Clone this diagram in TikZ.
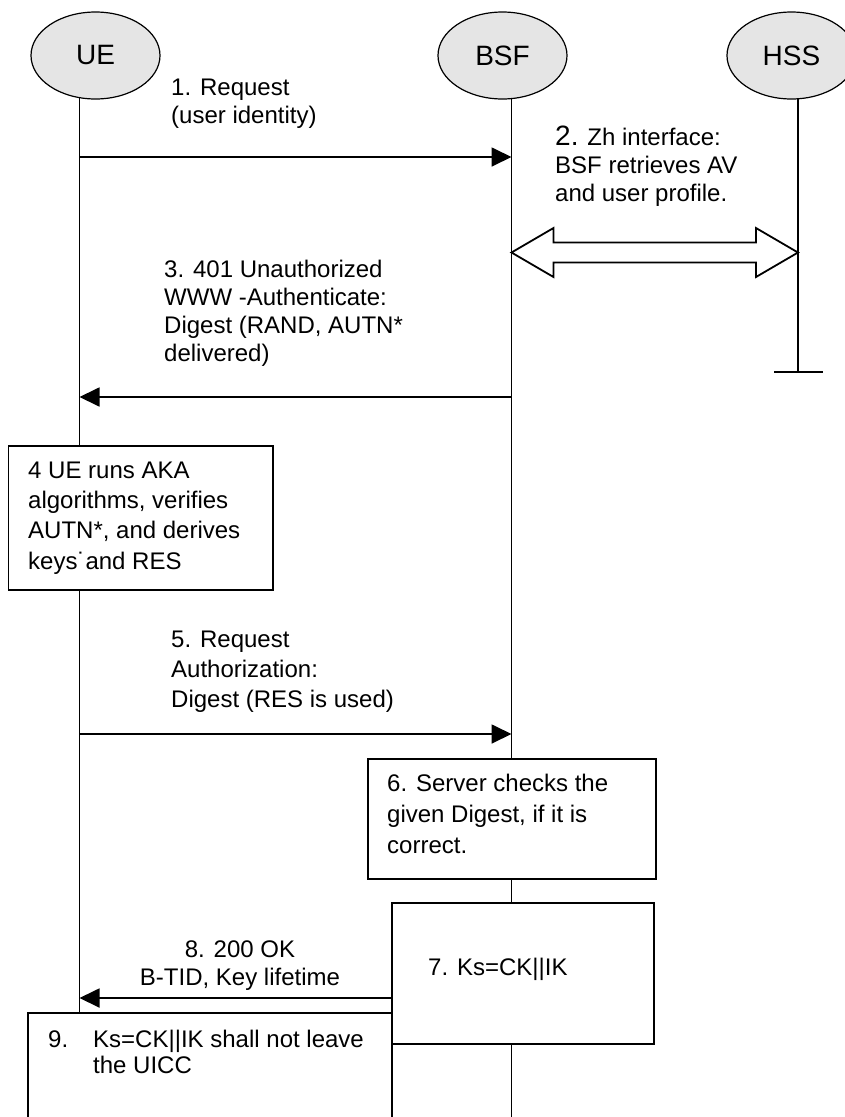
\documentclass[tikz,border=0pt]{standalone}
\usepackage{fontspec}
\setmainfont{Liberation Sans}
\usetikzlibrary{shapes.geometric, arrows.meta, positioning, calc}

\newcommand{\lnup}{\rule{0pt}{18pt}}

\tikzset{
	entity/.style={ellipse, draw, line width=1.2pt, fill=gray!20, minimum width=129pt, minimum height=87pt, inner sep=0pt, font=\fontsize{28}{34}\selectfont},
	life/.style={line width=1.6pt},
	msg/.style={line width=1.8pt, -{Triangle[length=20pt,width=19pt]}},
	zh/.style={line width=1.8pt, fill=white, line join=miter},
	stepbox/.style={draw, fill=white, line width=1.6pt, anchor=north west, inner sep=0pt},
	txt/.style={anchor=north west, inner sep=0pt, align=left, font=\fontsize{24}{28}\selectfont},
	lead/.style={font=\fontsize{24}{#1}\selectfont}
}

\begin{document}
\begin{tikzpicture}[x=1pt, y=-1pt]
		\useasboundingbox (0,0) rectangle (845,1117);
		\clip (0,0) rectangle (845,1117);

		% Entities
		\node[entity] (UE) at (95.5,55.5) {UE};
		\node[entity] (BSF) at (502.5,55.5) {BSF};
		\node[entity] (HSS) at (791.5,55.5) {HSS};

		\coordinate (UE-top) at (79.5,98);
		\coordinate (UE-end) at (79.5,1117);
		\coordinate (BSF-top) at (511.5,99);
		\coordinate (BSF-end) at (511.5,1117);
		\coordinate (HSS-top) at (798,98);
		\coordinate (HSS-end) at (798,372);
		\coordinate (HSS-stopL) at (774,372);
		\coordinate (HSS-stopR) at (823,372);

		% Lifelines
		\draw[life] (UE-top) -- (UE-end);
		\draw[life] (BSF-top) -- (BSF-end);
		\draw[life] (HSS-top) -- (HSS-end);
		\draw[life] (HSS-stopL) -- (HSS-stopR);

		% Messages
		\coordinate (UE-1) at (79.5,157);
		\coordinate (BSF-1) at (511.5,157);
		\coordinate (BSF-3) at (511.5,397);
		\coordinate (UE-3) at (79.5,397);
		\coordinate (UE-5) at (79.5,734);
		\coordinate (BSF-5) at (511.5,734);
		\coordinate (UE-8) at (79.5,998);
		\coordinate (BSF-zh) at (511.5,252.5);
		\coordinate (HSS-zh) at (798,252.5);

		\draw[msg] (UE-1) -- (BSF-1);
		\node[txt] (t1) at (171,77) {\lnup 1. Request\\(user identity)};

		\draw[zh] (BSF-zh) -- ++(42,-24.5) -- ++(0,14.5) -- ($(HSS-zh)+(-42,-10)$) -- ++(0,-14.5) -- (HSS-zh) -- ++(-42,24.5) -- ++(0,-14.5) -- ($(BSF-zh)+(42,10)$) -- ++(0,14.5) -- cycle;
		\node[txt] (t2) at (555,124) {\rule{0pt}{21pt}{\fontsize{28}{28}\selectfont 2.} Zh interface:\\BSF retrieves AV\\and user profile.};

		\draw[msg] (BSF-3) -- (UE-3);
		\node[txt] (t3) at (164,259) {\lnup 3. 401 Unauthorized\\WWW -Authenticate:\\Digest (RAND, AUTN*\\delivered)};

		% Steps
		\node[stepbox, minimum width=264.5pt, minimum height=144pt] (box4) at (7.5,445) {};
		\node[txt, lead=30.3] (t4) at (28,460) {\lnup 4 UE runs AKA\\algorithms, verifies\\AUTN*, and derives\\keys˙and RES};

		\draw[msg] (UE-5) -- (BSF-5);
		\node[txt, lead=30] (t5) at (171,629) {\lnup 5. Request\\Authorization:\\Digest (RES is used)};

		\node[stepbox, minimum width=288pt, minimum height=120pt] (box6) at (367,758) {};
		\node[txt, lead=31] (t6) at (387,773) {\lnup 6. Server checks the\\given Digest, if it is\\correct.};

		\node[stepbox, minimum width=262pt, minimum height=141pt] (box7) at (391,902) {};
		\node[txt] (t7) at (428,957) {\lnup 7. Ks=CK||IK};

		\draw[msg] (UE-8 -| box7.west) -- (UE-8);
		\node[txt, anchor=north, align=center] (t8) at (240,939) {\lnup 8. 200 OK\\B-TID, Key lifetime};

		\node[stepbox, minimum width=364pt, minimum height=150pt] (box9) at (27,1012) {};
		\node[txt, lead=26] (t9) at (48,1029) {\lnup 9.\hspace*{25pt}Ks=CK||IK shall not leave\\\hspace*{45pt}the UICC};
\end{tikzpicture}
\end{document}
